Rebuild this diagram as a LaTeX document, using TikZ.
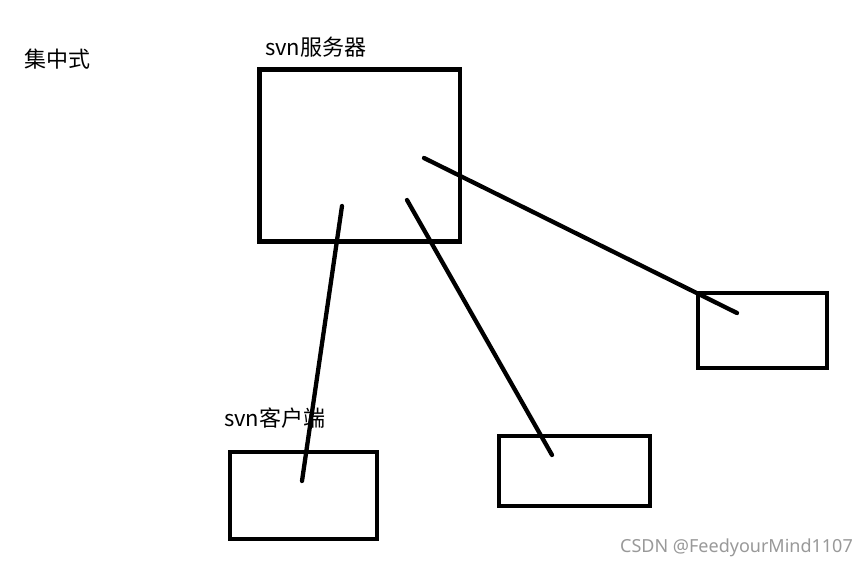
\documentclass[tikz,border=0pt]{standalone}
\usepackage{fontspec}
\setmainfont{Noto Sans}
\newfontfamily\cjk{Noto Sans CJK SC}
\begin{document}
\begin{tikzpicture}[x=1pt,y=-1pt,
  boxstyle/.style={draw=black,line width=4.5pt,fill=none},
  linkstyle/.style={draw=black,line width=4.3pt,line cap=round},
  lbl/.style={inner sep=0pt,anchor=west,font=\cjk\fontsize{22}{26}\selectfont},
  wm/.style={inner sep=0pt,anchor=east,text=black!40,font=\fontsize{18}{21}\selectfont}]
\useasboundingbox (0,0) rectangle (868,568);
\fill[white] (0,0) rectangle (868,568);
% boxes
\draw[boxstyle] (259.5,69.5) rectangle (460,241.5);
\draw[boxstyle] (698,293) rectangle (827,368);
\draw[boxstyle] (499,436) rectangle (650,506);
\draw[boxstyle] (230,452) rectangle (377,539);
% labels
\node[lbl] (title) at (24,59) {集中式};
\node[lbl] (server) at (265,47) {svn服务器};
\node[lbl] (client) at (224,418) {svn客户端};
\node[wm] (mark) at (853,548) {CSDN @FeedyourMind1107};
% connector ends
\coordinate (s1) at (342,206);
\coordinate (c1) at (302,481);
\coordinate (s2) at (407,200);
\coordinate (c2) at (552,455);
\coordinate (s3) at (424,158);
\coordinate (c3) at (737,313);
\draw[linkstyle] (s1) -- (c1);
\draw[linkstyle] (s2) -- (c2);
\draw[linkstyle] (s3) -- (c3);
\end{tikzpicture}
\end{document}
